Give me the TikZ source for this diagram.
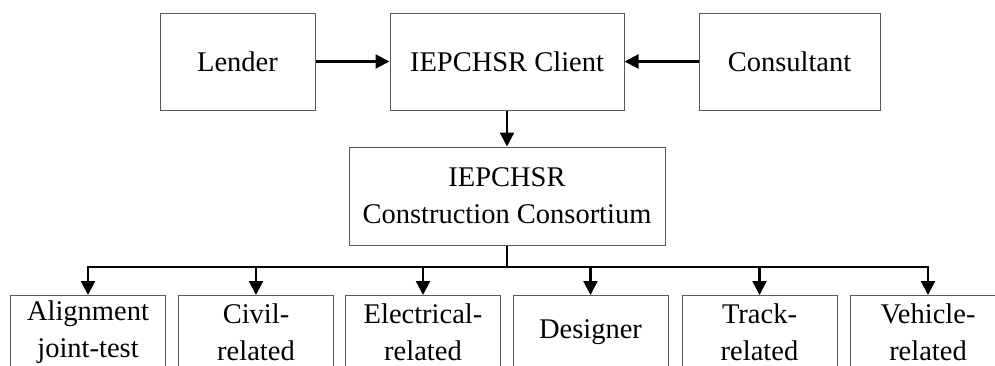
\documentclass[tikz,border=0pt]{standalone}
\usepackage{fontspec}
\setmainfont{Liberation Serif}
\usetikzlibrary{arrows.meta}
\begin{document}
\begin{tikzpicture}[x=1pt,y=-1pt,
  boxstyle/.style={draw=black!65,line width=1pt,inner sep=0pt,fill=none},
  txt/.style={font=\fontsize{28.5}{37}\selectfont,align=center,inner sep=0pt},
  conn/.style={line width=2.2pt,-{Triangle[length=14pt,width=14pt]}},
  busline/.style={line width=2.2pt}]
\useasboundingbox (0,0) rectangle (995,365);
\clip (0,0) rectangle (995,365);
% top row
\node[boxstyle,txt,minimum width=155,minimum height=97] (lender) at (237.5,61.5) {Lender};
\node[boxstyle,txt,minimum width=234,minimum height=97] (client) at (507,61.5) {IEPCHSR Client};
\node[boxstyle,txt,minimum width=181,minimum height=97] (consult) at (789.5,61.5) {Consultant};
% middle
\node[boxstyle,txt,minimum width=316,minimum height=98] (cons) at (507,196) {IEPCHSR\\Construction Consortium};
% bottom boxes
\foreach \i/\x in {1/88,2/256,3/423,4/590.5,5/759.5,6/928}{
  \node[boxstyle,minimum width=155,minimum height=100,anchor=north] (b\i) at (\x,295) {};
}
\node[txt] (t1) at (b1.north) [yshift=-37pt] {Alignment\\joint-test};
\node[txt] (t2) at (b2.north) [yshift=-37pt] {Civil-\\related};
\node[txt] (t3) at (b3.north) [yshift=-37pt] {Electrical-\\related};
\node[txt] (t4) at (b4.north) [yshift=-37pt] {Designer};
\node[txt] (t5) at (b5.north) [yshift=-37pt] {Track-\\related};
\node[txt] (t6) at (b6.north) [yshift=-37pt] {Vehicle-\\related};
% connectors
\draw[conn] (lender.east) -- (client.west);
\draw[conn] (consult.west) -- (client.east);
\draw[conn] (client.south) -- (cons.north);
\coordinate (bus) at (507,267);
\draw[busline] (cons.south) -- (bus);
\draw[busline,line cap=rect] (b1.north |- bus) -- (b6.north |- bus);
\foreach \i in {1,...,6}{
  \draw[conn] (b\i.north |- bus) -- (b\i.north);
}
\end{tikzpicture}
\end{document}
